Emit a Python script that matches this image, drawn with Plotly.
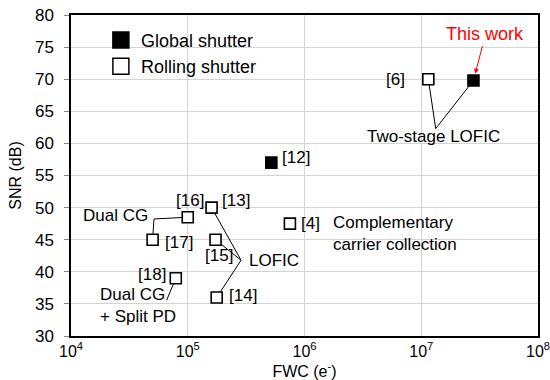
import numpy as np
import plotly.graph_objects as go

# ---- data ----
global_fwc = [2.8e7, 5.2e5]
global_snr = [69.8, 57.0]
rolling_fwc = [1.15e7, 1.0e5, 1.6e5, 5.0e4, 1.73e5, 7.9e4, 1.77e5, 7.5e5]
rolling_snr = [70.0, 48.5, 50.0, 45.0, 45.0, 39.0, 36.0, 47.5]
rolling_refs = ["[6]", "[16]", "[13]", "[17]", "[15]", "[18]", "[14]", "[4]"]

x_ticks = [1e4, 1e5, 1e6, 1e7, 1e8]
x_ticktext = ["10<sup>4</sup>", "10<sup>5</sup>", "10<sup>6</sup>", "10<sup>7</sup>", "10<sup>8</sup>"]
y_ticks = [30, 35, 40, 45, 50, 55, 60, 65, 70, 75, 80]

# leader lines: (vertex fwc, vertex snr) -> list of marker points
leaders = [
    ((1.33e7, 62.3), [(1.15e7, 70.0), (2.8e7, 69.8)]),      # Two-stage LOFIC
    ((5.14e4, 48.23), [(1.0e5, 48.5), (5.0e4, 45.0)]),      # Dual CG
    ((2.86e5, 41.8), [(1.6e5, 50.0), (1.73e5, 45.0), (1.77e5, 36.0)]),  # LOFIC
    ((6.6e4, 35.58), [(7.9e4, 39.0)]),                     # Dual CG + Split PD
]

FONT = "Arial, Liberation Sans, sans-serif"

fig = go.Figure()

# leader lines
for (vx, vy), pts in leaders:
    xs, ys = [], []
    for px, py in pts:
        xs += [vx, px, None]
        ys += [vy, py, None]
    fig.add_trace(go.Scatter(x=xs, y=ys, mode="lines", line=dict(color="black", width=1),
                             showlegend=False, hoverinfo="skip"))

fig.add_trace(go.Scatter(x=rolling_fwc, y=rolling_snr, mode="markers", showlegend=False,
                         marker=dict(symbol="square", size=11, color="white",
                                     line=dict(color="black", width=1.6))))
fig.add_trace(go.Scatter(x=global_fwc, y=global_snr, mode="markers", showlegend=False,
                         marker=dict(symbol="square", size=11, color="black",
                                     line=dict(color="black", width=1.6))))
# legend entries
fig.add_trace(go.Scatter(x=[None], y=[None], mode="markers", name="Global shutter",
                         marker=dict(symbol="square", size=16, color="black",
                                     line=dict(color="black", width=1.5))))
fig.add_trace(go.Scatter(x=[None], y=[None], mode="markers", name="Rolling shutter",
                         marker=dict(symbol="square", size=16, color="white",
                                     line=dict(color="black", width=1.5))))

def ann(text, fwc, snr, xanchor="center", size=17, color="black", align="left"):
    fig.add_annotation(text=text, x=np.log10(fwc), y=snr, xref="x", yref="y",
                       showarrow=False, xanchor=xanchor, yanchor="middle", align=align,
                       font=dict(family=FONT, size=size, color=color))

ann("[6]", 10**6.878, 70.0, "right")
ann("Two-stage LOFIC", 10**7.101, 61.1, "center")
ann("[12]", 10**5.790, 57.8, "left")
ann("[16]", 10**5.156, 51.1, "right")
ann("[13]", 10**5.276, 51.1, "left")
ann("Dual CG", 10**4.677, 48.75, "right")
ann("[17]", 10**4.791, 44.6, "left")
ann("[15]", 10**5.266, 42.5, "center")
ann("LOFIC", 10**5.505, 41.7, "left")
ann("[14]", 10**5.334, 36.36, "left")
ann("[18]", 10**4.833, 39.6, "right")
ann("Dual CG<br>+ Split PD", 10**4.231, 34.69, "left")
ann("[4]", 10**5.956, 47.45, "left")
ann("Complementary<br>carrier collection", 10**6.224, 45.99, "left")

fig.add_annotation(text="This work", x=np.log10(2.8e7), y=69.8, xref="x", yref="y",
                   showarrow=True, ax=12, ay=-46, arrowhead=2, arrowsize=1, arrowwidth=1,
                   arrowcolor="red", standoff=7,
                   font=dict(family=FONT, size=18, color="red"))

fig.update_xaxes(type="log", range=[4, 8], tickvals=x_ticks, ticktext=x_ticktext,
                 showgrid=True, gridcolor="#d4d4d4", gridwidth=1, automargin=False,
                 showline=True, linecolor="black", linewidth=1.5, mirror=True,
                 ticks="", zeroline=False, ticklabeloverflow="allow",
                 tickfont=dict(family=FONT, size=16, color="black"),
                 title=dict(text="FWC (e<sup>-</sup>)", font=dict(family=FONT, size=16, color="black"),
                            standoff=2))
fig.update_yaxes(range=[30, 80], tickvals=y_ticks, automargin=False,
                 showgrid=True, gridcolor="#d4d4d4", gridwidth=1,
                 showline=True, linecolor="black", linewidth=1.5, mirror=True,
                 ticks="outside", ticklen=5, tickcolor="#888888", zeroline=False,
                 ticklabelstandoff=7, ticklabeloverflow="allow",
                 tickfont=dict(family=FONT, size=17, color="black"),
                 title=dict(text="SNR (dB)", font=dict(family=FONT, size=16, color="black"),
                            standoff=9))

fig.update_layout(
    width=550, height=380,
    margin=dict(l=71, r=12, t=15, b=44),
    paper_bgcolor="white", plot_bgcolor="white",
    font=dict(family=FONT, color="black"),
    legend=dict(x=0.064, y=0.979, xanchor="left", yanchor="top",
                bgcolor="rgba(0,0,0,0)", borderwidth=0, tracegroupgap=0,
                font=dict(family=FONT, size=18, color="black")),
)

fig.write_html("out.html")
